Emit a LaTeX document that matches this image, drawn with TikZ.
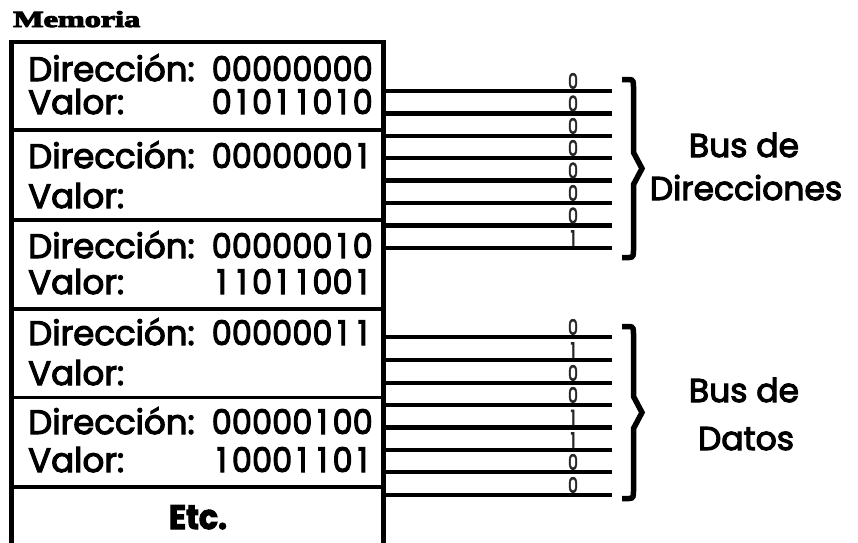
\documentclass[tikz,border=0pt]{standalone}
\usepackage{fontspec}
\setsansfont{Poppins}[FakeBold=3.2]
\renewcommand{\familydefault}{\sfdefault}
\newfontfamily\titlefont{Liberation Serif}[FakeBold=4]
\definecolor{bitgray}{gray}{0.15}
\makeatletter
\newcommand\fixdigits[1]{\@tfor\fd@c:=#1\do{\makebox[0.63em]{\fd@c}}}
\makeatother
\tikzset{
  frame/.style={line width=4.2pt},
  sepline/.style={line width=3.8pt},
  busline/.style={line width=4.3pt},
  lbl/.style={anchor=base west, inner sep=0pt, font=\fontsize{34}{34}\selectfont},
  val/.style={anchor=base east, inner sep=0pt, font=\fontsize{34}{34}\selectfont, xscale=0.94},
  bit/.style={anchor=base, inner sep=0pt, text=bitgray, font=\fontsize{21}{21}\selectfont, xscale=0.75},
  bracestroke/.style={line width=5.5pt},
  buslbl/.style={anchor=base, inner sep=0pt, font=\fontsize{33}{33}\selectfont},
}
\newcommand\mybrace[3]{%
  \draw[bracestroke] (622,#1+1.5) -- (629,#1+1.5)
    .. controls (633.5,#1+1.5) and (633.5,#1+4) .. (633.5,#1+9)
    -- (633.5,#2-16) -- (642,#2) -- (633.5,#2+16) -- (633.5,#3-9)
    .. controls (633.5,#3-4) and (633.5,#3-1.5) .. (629,#3-1.5) -- (622,#3-1.5);}
\begin{document}
\begin{tikzpicture}[x=1pt,y=-1pt]
\useasboundingbox (0,0) rectangle (858,542);
% title
\node[anchor=base west, inner sep=0pt, font=\titlefont\bfseries\fontsize{23}{23}\selectfont, xscale=1.4] (title) at (13,27) {Memoria};
% memory frame
\draw[frame] (11.5,545) -- (11.5,42) -- (383.5,42) -- (383.5,545);
\foreach \y in {130,220,309,397.5,487} \draw[sepline] (11.5,\y) -- (383.5,\y);
% rows
\node[lbl] (d1) at (28,81) {Dirección:};
\node[val] (a1) at (373,81) {\fixdigits{00000000}};
\node[lbl] (v1) at (28,114) {Valor:};
\node[val] (x1) at (373,114) {\fixdigits{01011010}};
\node[lbl] (d2) at (28,168) {Dirección:};
\node[val] (a2) at (373,168) {\fixdigits{00000001}};
\node[lbl] (v2) at (28,208) {Valor:};
\node[lbl] (d3) at (28,258) {Dirección:};
\node[val] (a3) at (373,258) {\fixdigits{00000010}};
\node[lbl] (v3) at (28,294) {Valor:};
\node[val] (x3) at (373,294) {\fixdigits{11011001}};
\node[lbl] (d4) at (28,345) {Dirección:};
\node[val] (a4) at (373,345) {\fixdigits{00000011}};
\node[lbl] (v4) at (28,385) {Valor:};
\node[lbl] (d5) at (28,434) {Dirección:};
\node[val] (a5) at (373,434) {\fixdigits{00000100}};
\node[lbl] (v5) at (28,472) {Valor:};
\node[val] (x5) at (373,472) {\fixdigits{10001101}};
\node[anchor=base, inner sep=0pt, font=\bfseries\fontsize{34}{34}\selectfont, xscale=0.93] (etc) at (198,529) {Etc.};
% address bus
\foreach \y/\b [count=\i] in {91/0,113.5/0,136/0,158/0,180.5/0,203/0,225.5/0,248/1} {
  \coordinate (as\i) at (385,\y);
  \coordinate (ae\i) at (612,\y);
  \draw[busline] (as\i) -- (ae\i);
  \node[bit] (ab\i) at (573,\y-2.4) {\b};
}
% data bus
\foreach \y/\b [count=\i] in {337/0,360/1,383/0,405/0,427.5/1,450/1,472/0,495/0} {
  \coordinate (ds\i) at (385,\y);
  \coordinate (de\i) at (612,\y);
  \draw[busline] (ds\i) -- (de\i);
  \node[bit] (db\i) at (573,\y-2.4) {\b};
}
% braces
\mybrace{78}{168.5}{259}
\mybrace{325}{412.5}{500}
% bus labels
\node[buslbl] (l1) at (744,157) {Bus de};
\node[buslbl] (l2) at (746,200) {Direcciones};
\node[buslbl] (l3) at (744,402) {Bus de};
\node[buslbl] (l4) at (746,450) {Datos};
\end{tikzpicture}
\end{document}
